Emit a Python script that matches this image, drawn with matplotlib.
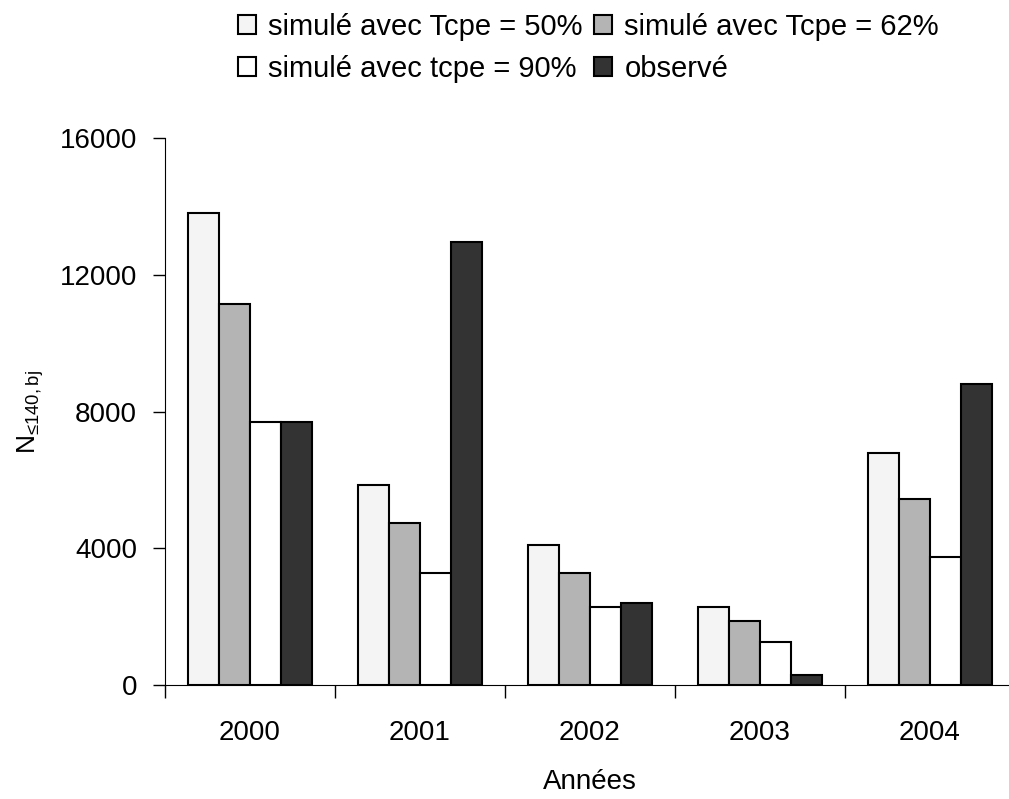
import numpy as np
import matplotlib.pyplot as plt

plt.rcParams['font.family'] = ['Liberation Sans', 'DejaVu Sans']
plt.rcParams['mathtext.default'] = 'regular'

years = ['2000', '2001', '2002', '2003', '2004']
sim50 = [13800, 5850, 4100, 2290, 6800]
sim62 = [11130, 4750, 3280, 1880, 5450]
sim90 = [7690, 3290, 2290, 1270, 3740]
obs = [7700, 12970, 2400, 280, 8800]

labels = ['simulé avec Tcpe = 50%', 'simulé avec Tcpe = 62%',
          'simulé avec tcpe = 90%', 'observé']
colors = ['#f4f4f4', '#b4b4b4', '#ffffff', '#333333']

fig = plt.figure(figsize=(10.09, 7.99), dpi=100)
ax = fig.add_axes([165/1009, 114/799, 850/1009, 547/799])

x = np.arange(len(years))
w = 0.183
series = [sim50, sim62, sim90, obs]
bars = []
for k, vals in enumerate(series):
    b = ax.bar(x + (k - 1.5)*w, vals, w, color=colors[k], edgecolor='black',
               linewidth=1.5, label=labels[k])
    bars.append(b)

ax.set_xlim(-0.5, 4.5)
ax.set_ylim(0, 16000)
ax.set_yticks([0, 4000, 8000, 12000, 16000])
ax.tick_params(axis='y', labelsize=20, length=9, pad=11, width=1)

ax.set_xticks(np.arange(-0.5, 5.0, 1.0))
ax.set_xticklabels([])
ax.tick_params(axis='x', which='major', length=9, width=1)
ax.set_xticks(x, minor=True)
ax.set_xticklabels(years, minor=True)
ax.tick_params(axis='x', which='minor', length=0, labelsize=20, pad=25)

for s in ['top', 'right']:
    ax.spines[s].set_visible(False)

ax.set_xlabel('Années', fontsize=20, labelpad=17)
ax.set_ylabel('N$_{≤140,bj}$', fontsize=19, labelpad=10)

# ordre des colonnes pour avoir 50% / 62% sur la 1re ligne
order = [0, 2, 1, 3]
fig.legend(handles=[bars[i] for i in order], labels=[labels[i] for i in order],
           ncol=2, loc='upper left', bbox_to_anchor=(223/1009, 1 + 2/799),
           frameon=False, fontsize=21, borderpad=0, handlelength=0.62,
           handleheight=0.62, handletextpad=0.42, columnspacing=0.4,
           labelspacing=0.48)

fig.savefig('out.png', dpi=100)
